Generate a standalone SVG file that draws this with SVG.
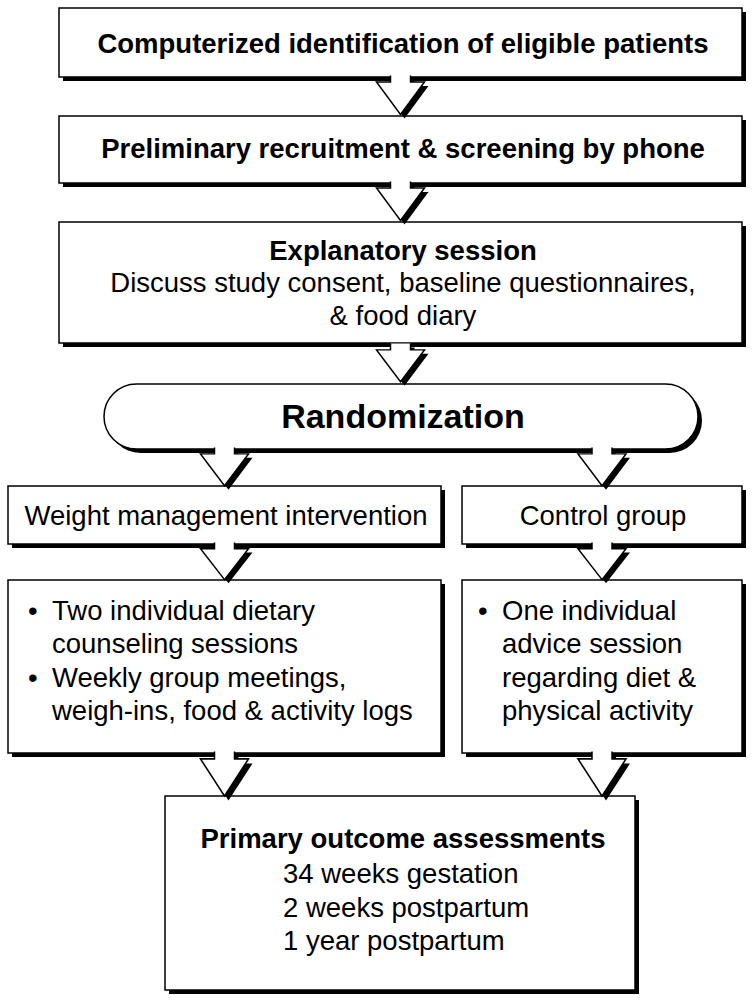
<svg xmlns="http://www.w3.org/2000/svg" width="755" height="1003" viewBox="0 0 755 1003">
<style>
.sh{fill:#000}
.bx{fill:#fff;stroke:#000;stroke-width:1.5}
.ar{fill:#fff;stroke:#000;stroke-width:1.5;stroke-linejoin:miter}
.t{font-family:"Liberation Sans",Arial,sans-serif;font-size:27.5px;fill:#000}
.c{text-anchor:middle}
.b{font-weight:bold}
</style>
<rect width="755" height="1003" fill="#fff"/>
<g id="n1">
<rect class="sh" x="63" y="12" width="683" height="69"/>
<rect class="bx" x="59" y="8" width="683" height="69"/>
<text class="t b c" x="403" y="53">Computerized identification of eligible patients</text>
</g>
<g id="n2">
<rect class="sh" x="63" y="120" width="683" height="67"/>
<rect class="bx" x="59" y="116" width="683" height="67"/>
<text class="t b c" x="403" y="158">Preliminary recruitment &amp; screening by phone</text>
</g>
<g id="n3">
<rect class="sh" x="63" y="226" width="683" height="121"/>
<rect class="bx" x="59" y="222" width="683" height="121"/>
<text class="t b c" x="403" y="260">Explanatory session</text>
<text class="t c" x="403" y="292">Discuss study consent, baseline questionnaires,</text>
<text class="t c" x="403" y="325">&amp; food diary</text>
</g>
<g id="n4">
<rect class="sh" x="108" y="388" width="594" height="65" rx="32.5"/>
<rect class="bx" x="104" y="384" width="594" height="65" rx="32.5"/>
<text class="t b c" x="403" y="428" style="font-size:34px">Randomization</text>
</g>
<g id="n5">
<rect class="sh" x="12" y="490" width="433" height="58"/>
<rect class="bx" x="8" y="486" width="433" height="58"/>
<text class="t c" x="226" y="525">Weight management intervention</text>
</g>
<g id="n6">
<rect class="sh" x="466" y="490" width="280" height="58"/>
<rect class="bx" x="462" y="486" width="280" height="58"/>
<text class="t c" x="603" y="525">Control group</text>
</g>
<g id="n7">
<rect class="sh" x="12" y="584" width="433" height="173"/>
<rect class="bx" x="8" y="580" width="433" height="173"/>
<text class="t" x="28" y="620">•</text>
<text class="t" x="52" y="620">Two individual dietary</text>
<text class="t" x="52" y="653">counseling sessions</text>
<text class="t" x="28" y="687">•</text>
<text class="t" x="52" y="687">Weekly group meetings,</text>
<text class="t" x="52" y="720">weigh-ins, food &amp; activity logs</text>
</g>
<g id="n8">
<rect class="sh" x="466" y="584" width="280" height="173"/>
<rect class="bx" x="462" y="580" width="280" height="173"/>
<text class="t" x="478" y="620">•</text>
<text class="t" x="502" y="620">One individual</text>
<text class="t" x="502" y="653">advice session</text>
<text class="t" x="502" y="687">regarding diet &amp;</text>
<text class="t" x="502" y="720">physical activity</text>
</g>
<g id="n9">
<rect class="sh" x="169" y="800" width="470" height="194"/>
<rect class="bx" x="165" y="796" width="470" height="194"/>
<text class="t b c" x="403" y="848">Primary outcome assessments</text>
<text class="t" x="283" y="883">34 weeks gestation</text>
<text class="t" x="283" y="917">2 weeks postpartum</text>
<text class="t" x="283" y="950">1 year postpartum</text>
</g>
<defs>
<path id="arrow" d="M-10,0 V6.5 H-24 L0,39 L24,6.5 H10 V0"/>
</defs>
<g id="connectors">
<g transform="translate(400.5,75.5)"><use href="#arrow" class="sh" transform="translate(4,4)"/><use href="#arrow" class="ar"/></g>
<g transform="translate(400.5,181.5)"><use href="#arrow" class="sh" transform="translate(4,4)"/><use href="#arrow" class="ar"/></g>
<g transform="translate(400.5,343.5) scale(1,0.98)"><use href="#arrow" class="sh" transform="translate(4,4)"/><use href="#arrow" class="ar"/></g>
<g transform="translate(224.5,447.5) scale(1,0.98)"><use href="#arrow" class="sh" transform="translate(4,4)"/><use href="#arrow" class="ar"/></g>
<g transform="translate(602,447.5) scale(1,0.98)"><use href="#arrow" class="sh" transform="translate(4,4)"/><use href="#arrow" class="ar"/></g>
<g transform="translate(224.5,542.5) scale(1,0.95)"><use href="#arrow" class="sh" transform="translate(4,4)"/><use href="#arrow" class="ar"/></g>
<g transform="translate(602,542.5) scale(1,0.95)"><use href="#arrow" class="sh" transform="translate(4,4)"/><use href="#arrow" class="ar"/></g>
<g transform="translate(224.5,751.5) scale(1,1.14)"><use href="#arrow" class="sh" transform="translate(4,4)"/><use href="#arrow" class="ar"/></g>
<g transform="translate(602,751.5) scale(1,1.14)"><use href="#arrow" class="sh" transform="translate(4,4)"/><use href="#arrow" class="ar"/></g>
</g>
</svg>
